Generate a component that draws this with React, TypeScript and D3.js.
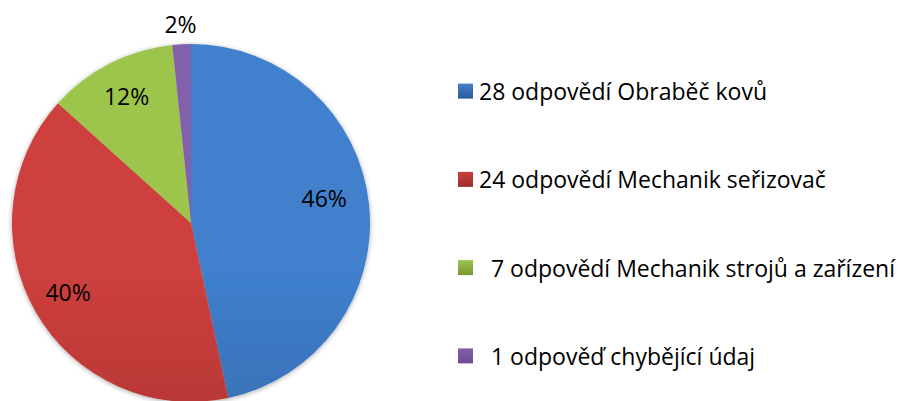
import React from "react";
import * as d3 from "d3";

const categories = [
  "28 odpovědí Obraběč kovů",
  "24 odpovědí Mechanik seřizovač",
  "  7 odpovědí Mechanik strojů a zařízení",
  "  1 odpověď chybějící údaj",
];
const values = [28, 24, 7, 1];
const percentLabels = ["46%", "40%", "12%", "2%"];
const colorsTop = ["#3f80cd", "#cd403d", "#9dc44b", "#8260ab"];
const colorsBottom = ["#2e5c98", "#9c2c2c", "#789638", "#6a4d90"];

const W = 905;
const H = 401;
const cx = 191;
const cy = 223;
const R = 179;
const FONT = "'Open Sans', sans-serif";
// label placement tweaks (layout only): [dx, dy]
const labelNudge: [number, number][] = [[-8, -10], [0, -2], [0, 0], [0, 1]];

export default function App() {
  const pie = d3.pie<number>().sort(null).value((d) => d)(values);
  const arc = d3.arc<d3.PieArcDatum<number>>().innerRadius(0).outerRadius(R);
  const labelArc = d3.arc<d3.PieArcDatum<number>>().innerRadius(142).outerRadius(142);
  const outerArc = d3.arc<d3.PieArcDatum<number>>().innerRadius(200).outerRadius(200);
  const legendY = d3.scaleBand<number>().domain(d3.range(categories.length)).range([47, 400]);

  return (
    <svg width={W} height={H} style={{ position: "absolute", left: 0, top: 0, background: "#fff" }}>
      <defs>
        {values.map((_, i) => (
          <linearGradient key={i} id={`g${i}`} x1="0" y1="0" x2="0" y2="1" gradientUnits="objectBoundingBox">
            <stop offset="0" stopColor={colorsTop[i]} />
            <stop offset="1" stopColor={colorsBottom[i]} />
          </linearGradient>
        ))}
        {values.map((_, i) => (
          <linearGradient key={"p" + i} id={`pg${i}`} x1="0" y1={cy - R} x2="0" y2={cy + R} gradientUnits="userSpaceOnUse">
            <stop offset="0" stopColor={colorsTop[i]} />
            <stop offset="1" stopColor={colorsBottom[i]} />
          </linearGradient>
        ))}
        <filter id="sh" x="-10%" y="-10%" width="120%" height="120%">
          <feGaussianBlur in="SourceAlpha" stdDeviation="2.5" />
          <feOffset dx="0" dy="1" result="b" />
          <feComponentTransfer>
            <feFuncA type="linear" slope="0.35" />
          </feComponentTransfer>
          <feMerge>
            <feMergeNode />
            <feMergeNode in="SourceGraphic" />
          </feMerge>
        </filter>
      </defs>
      <g filter="url(#sh)">
        {pie.map((p, i) => (
          <path key={i} d={arc(p) || ""} fill={`url(#pg${i})`} transform={`translate(${cx},${cy})`} />
        ))}
      </g>
      <g transform={`translate(${cx},${cy})`} fontFamily={FONT} fontSize={23} fill="#000">
        {pie.map((p, i) => {
          const [x, y] = i === 3 ? outerArc.centroid(p) : labelArc.centroid(p);
          return (
            <text key={i} x={x + labelNudge[i][0]} y={y + labelNudge[i][1]} textAnchor="middle" dominantBaseline="central">
              {percentLabels[i]}
            </text>
          );
        })}
      </g>
      <g fontFamily={FONT} fontSize={23} fill="#000">
        {categories.map((c, i) => {
          const y = (legendY(i) || 0) + legendY.bandwidth() / 2;
          return (
            <g key={i}>
              <rect x={458} y={y - 7.5} width={15} height={15} fill={`url(#g${i})`} />
              <text x={479} y={y} dominantBaseline="central" style={{ whiteSpace: "pre" }} xmlSpace="preserve">
                {c}
              </text>
            </g>
          );
        })}
      </g>
    </svg>
  );
}
